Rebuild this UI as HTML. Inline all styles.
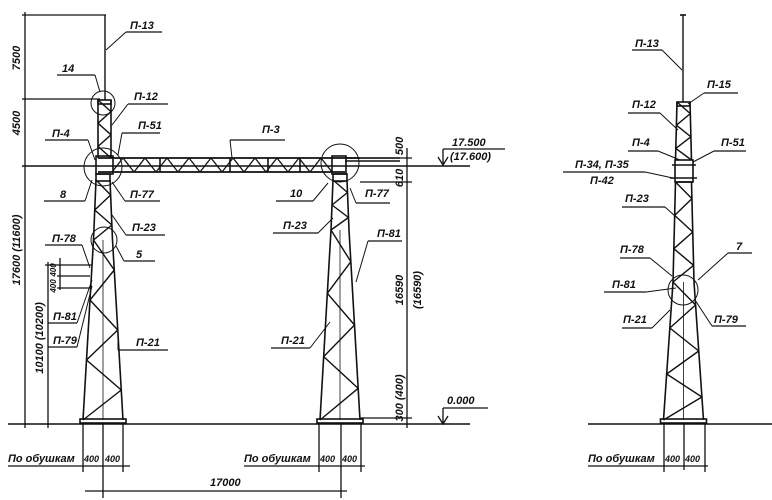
<!DOCTYPE html>
<html><head><meta charset="utf-8"><style>
html,body{margin:0;padding:0;background:#fff;}
svg{display:block;}
text{font-family:"Liberation Sans",sans-serif;font-style:italic;font-weight:bold;font-size:11px;fill:#111;}
</style></head><body>
<svg id="s" width="772" height="500" viewBox="0 0 772 500" xmlns="http://www.w3.org/2000/svg" stroke="#111" fill="none" stroke-width="1.3">
<!-- ground -->
<line x1="8" y1="424" x2="470" y2="424" stroke-width="1.6"/>
<line x1="588" y1="424" x2="772" y2="424" stroke-width="1.6"/>
<!-- left dims -->
<line x1="25" y1="12" x2="25" y2="428"/>
<line x1="22" y1="15" x2="106" y2="15"/>
<line x1="22" y1="99" x2="100" y2="99"/>
<line x1="22" y1="166" x2="470" y2="166" stroke-width="1.5"/>
<line x1="48" y1="262" x2="48" y2="428"/>
<line x1="45" y1="265" x2="92" y2="265"/>
<line x1="60" y1="258" x2="60" y2="290"/>
<line x1="57" y1="276" x2="90" y2="276"/>
<line x1="57" y1="288" x2="90" y2="288"/>
<g stroke="none">
<text transform="translate(20,58) rotate(-90)" text-anchor="middle">7500</text>
<text transform="translate(20,123) rotate(-90)" text-anchor="middle">4500</text>
<text transform="translate(20,250) rotate(-90)" text-anchor="middle">17600 (11600)</text>
<text transform="translate(43,338) rotate(-90)" text-anchor="middle">10100 (10200)</text>
<text transform="translate(56,270) rotate(-90)" text-anchor="middle" style="font-size:8px">400</text>
<text transform="translate(56,286) rotate(-90)" text-anchor="middle" style="font-size:8px">400</text>
</g>
<!-- right dims -->
<line x1="407" y1="148" x2="407" y2="428"/>
<line x1="360" y1="158" x2="412" y2="158"/>
<line x1="360" y1="182" x2="412" y2="182"/>
<line x1="360" y1="418" x2="412" y2="418"/>
<g stroke="none">
<text transform="translate(403,146) rotate(-90)" text-anchor="middle">500</text>
<text transform="translate(403,178) rotate(-90)" text-anchor="middle">610</text>
<text transform="translate(403,290) rotate(-90)" text-anchor="middle">16590</text>
<text transform="translate(421,290) rotate(-90)" text-anchor="middle">(16590)</text>
<text transform="translate(403,398) rotate(-90)" text-anchor="middle">300 (400)</text>
<text x="452" y="146">17.500</text>
<text x="450" y="160">(17.600)</text>
<text x="447" y="404">0.000</text>
</g>
<line x1="443" y1="149" x2="505" y2="149"/>
<line x1="443" y1="149" x2="443" y2="165"/>
<path d="M438,157 L443,165 L448,157"/>
<line x1="443" y1="408" x2="488" y2="408"/>
<line x1="443" y1="408" x2="443" y2="424"/>
<path d="M438,416 L443,424 L448,416"/>
<!-- bottom dims -->
<g stroke="none">
<text x="8" y="462">По обушкам</text>
<text x="84" y="462" style="font-size:9px">400</text><text x="105" y="462" style="font-size:9px">400</text>
<text x="244" y="462">По обушкам</text>
<text x="320" y="462" style="font-size:9px">400</text><text x="342" y="462" style="font-size:9px">400</text>
<text x="588" y="462">По обушкам</text>
<text x="665" y="462" style="font-size:9px">400</text><text x="685" y="462" style="font-size:9px">400</text>
<text x="210" y="486">17000</text>
</g>
<line x1="8" y1="466" x2="130" y2="466"/>
<line x1="244" y1="466" x2="365" y2="466"/>
<line x1="588" y1="466" x2="708" y2="466"/>
<line x1="83" y1="424" x2="83" y2="472"/><line x1="123" y1="424" x2="123" y2="472"/><line x1="103" y1="424" x2="103" y2="498"/>
<line x1="319" y1="424" x2="319" y2="472"/><line x1="361" y1="424" x2="361" y2="472"/><line x1="341" y1="424" x2="341" y2="498"/>
<line x1="664" y1="424" x2="664" y2="472"/><line x1="705" y1="424" x2="705" y2="472"/><line x1="684" y1="424" x2="684" y2="470"/>
<line x1="85" y1="491" x2="347" y2="491"/>
<g id="lat" stroke-width="1.6"></g>
<g id="lbl"></g>
</svg>
<script>
var NS="http://www.w3.org/2000/svg",lat=document.getElementById('lat'),lbl=document.getElementById('lbl');
function L(a,b,c,d,w,p){var e=document.createElementNS(NS,'line');e.setAttribute('x1',a);e.setAttribute('y1',b);e.setAttribute('x2',c);e.setAttribute('y2',d);if(w)e.setAttribute('stroke-width',w);(p||lat).appendChild(e);}
function R(x,y,w,h){var e=document.createElementNS(NS,'rect');e.setAttribute('x',x);e.setAttribute('y',y);e.setAttribute('width',w);e.setAttribute('height',h);lat.appendChild(e);}
function C(x,y,r){var e=document.createElementNS(NS,'circle');e.setAttribute('cx',x);e.setAttribute('cy',y);e.setAttribute('r',r);e.setAttribute('stroke-width',1);lat.appendChild(e);}
function seg(cx,y1,y2,h1,h2,n){
 L(cx-h1,y1,cx-h2,y2);L(cx+h1,y1,cx+h2,y2);
 var side=-1,px=null,py=null;
 for(var i=0;i<=n;i++){var y=y1+(y2-y1)*i/n,h=h1+(h2-h1)*i/n,x=cx+side*h;
  if(px!==null)L(px,py,x,y,1.4);px=x;py=y;side=-side;}
}
function tower(cx,ytop,ymid,ybot,hTop,hMid,hBot,n1,n2){
 seg(cx,ytop,ymid,hTop,hMid,n1);seg(cx,ymid,ybot,hMid,hBot,n2);
 L(cx,ymid,cx,ybot,0.8);
 R(cx-hBot-3,ybot-1,2*hBot+6,4);
}
// left tower
L(105,15,105,100,1.4);
seg(104.5,100,158,6.5,6.5,5);R(98,100,13,4);
tower(103,180,240,420,7,9.5,20,4,6);R(96,174,14,7);
// right tower
tower(340,180,230,420,7,9,20,4,6);R(333,174,14,7);
// beam
L(98,158,360,158,1.8);L(98,172,345,172,1.8);L(345,158,400,158);L(345,161,400,161);
(function(){var x=112,t=true;while(x<332){L(x,t?172:158,x+11,t?158:172,1.3);x+=11;t=!t;}})();
R(96,156,17,18);R(332,156,14,18);
L(160,158,160,172);L(230,158,230,172);L(268,158,268,172);L(300,158,300,172);
C(103,103,12);C(103,167,19);C(104,240,13);C(340,163,19);
// third tower
L(683,15,683,102,1.4);L(680,15,686,15);
seg(683.5,102,160,6.5,8,5);R(677,102,13,4);
R(675,160,18,22);L(672,165,696,165);L(670,178,697,178);L(675,182,693,182);
tower(683.5,182,282,420,8,10.5,20,6,6);
C(683,290,15);
// labels
function T(x,y,s,ux1,ux2,uy,tx,ty){var t=document.createElementNS(NS,'text');t.setAttribute('x',x);t.setAttribute('y',y);t.setAttribute('stroke','none');t.textContent=s;lbl.appendChild(t);
 L(ux1,uy,ux2,uy,1.2,lbl);var sx=(Math.abs(tx-ux1)<Math.abs(tx-ux2))?ux1:ux2;L(sx,uy,tx,ty,1,lbl);}
T(130,29,'П-13',126,162,32,106,50);
T(62,72,'14',57,95,75,100,92);
T(134,100,'П-12',128,168,104,112,125);
T(138,129,'П-51',122,160,133,118,155);
T(52,137,'П-4',45,88,140,95,160);
T(262,133,'П-3',230,285,140,232,158);
T(60,198,'8',44,85,201,92,180);
T(130,198,'П-77',125,160,201,112,182);
T(132,231,'П-23',126,165,235,112,215);
T(52,242,'П-78',45,82,245,90,268);
T(136,258,'5',124,155,261,116,246);
T(53,320,'П-81',48,77,323,92,280);
T(53,344,'П-79',48,77,347,92,286);
T(136,346,'П-21',118,168,350,118,336);
T(290,197,'10',276,313,201,328,183);
T(365,197,'П-77',356,390,203,350,188);
T(283,229,'П-23',273,318,233,333,218);
T(377,237,'П-81',368,402,241,356,282);
T(281,344,'П-21',271,310,348,330,322);
T(635,47,'П-13',632,662,50,682,70);
T(707,88,'П-15',704,738,93,688,104);
T(632,108,'П-12',628,660,113,678,130);
T(632,146,'П-4',628,658,151,680,160);
T(721,146,'П-51',714,746,151,693,162);
T(575,168,'П-34, П-35',563,645,172,673,178);
T(590,184,'П-42',590,590,172,590,172);
T(625,202,'П-23',622,665,207,675,216);
T(620,253,'П-78',620,650,258,672,276);
T(736,250,'7',728,752,253,698,280);
T(612,288,'П-81',604,646,292,676,288);
T(623,323,'П-21',622,652,328,670,310);
T(714,323,'П-79',712,746,326,695,300);
</script>
</body></html>
